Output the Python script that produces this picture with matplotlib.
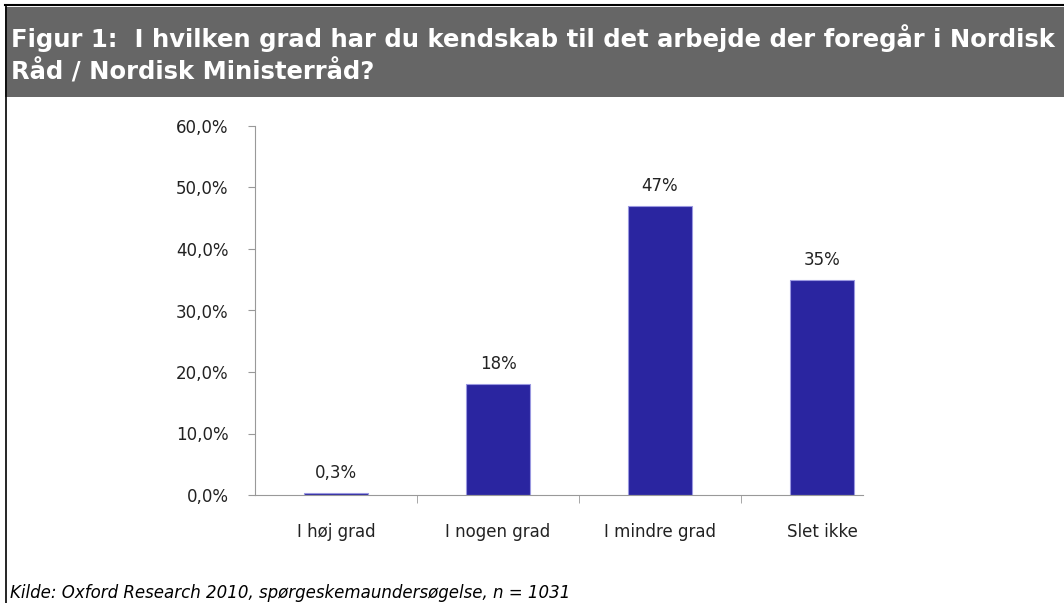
import matplotlib.pyplot as plt
from matplotlib.patches import Rectangle
from matplotlib.lines import Line2D
from matplotlib.ticker import FuncFormatter

plt.rcParams['font.family'] = ['DejaVu Sans']

categories = ["I høj grad", "I nogen grad", "I mindre grad", "Slet ikke"]
values = [0.3, 18, 47, 35]
labels = ["0,3%", "18%", "47%", "35%"]
title_lines = ["Figur 1:  I hvilken grad har du kendskab til det arbejde der foregår i Nordisk",
               "Råd / Nordisk Ministerråd?"]
source = "Kilde: Oxford Research 2010, spørgeskemaundersøgelse, n = 1031"

W, H = 1064, 603
fig = plt.figure(figsize=(W / 100, H / 100), dpi=100)


# pixel -> figure fraction helpers
def fx(px):
    return px / W


def fy(py):
    return 1 - py / H


# header box + frame lines
fig.patches.append(Rectangle((fx(5), fy(97)), fx(W) - fx(5), fy(7) - fy(97),
                             transform=fig.transFigure, facecolor="#666666",
                             edgecolor="none", zorder=0))
fig.lines.append(Line2D([fx(5), 1], [fy(5), fy(5)], transform=fig.transFigure,
                        color="black", lw=1.5))
fig.lines.append(Line2D([fx(6), fx(6)], [fy(5), 0], transform=fig.transFigure,
                        color="black", lw=1.2))
for i, line in enumerate(title_lines):
    fig.text(fx(11), fy(47 + 33 * i), line, color="white", fontsize=17.5,
             fontweight="bold", va="baseline", ha="left")
fig.text(fx(10), fy(598), source, fontsize=12, style="italic",
         va="baseline", ha="left", color="black")

ax = fig.add_axes([fx(255), fy(495), fx(903) - fx(255), fy(126) - fy(495)])
x = range(len(categories))
ax.bar(x, values, width=0.4, color="#2A25A0", edgecolor="#9a98e0", linewidth=0.8)
for xi, v, lab in zip(x, values, labels):
    ax.text(xi, v + 1.8, lab, ha="center", va="bottom", fontsize=12, color="#222222")

ax.set_xlim(-0.5, 3.5)
ax.set_ylim(0, 60)
ax.set_yticks(range(0, 61, 10))
ax.yaxis.set_major_formatter(FuncFormatter(lambda v, p: f"{v:.1f}%".replace(".", ",")))
ax.set_xticks(list(x))
ax.set_xticklabels(categories)
ax.set_xticks([0.5, 1.5, 2.5], minor=True)
ax.tick_params(axis="x", which="major", length=0, pad=20, labelsize=12, labelcolor="#222222")
ax.tick_params(axis="x", which="minor", length=6, color="#999999", direction="out")
ax.tick_params(axis="y", length=5, color="#999999", pad=14, labelsize=12, labelcolor="#222222")
for s in ["top", "right"]:
    ax.spines[s].set_visible(False)
for s in ["left", "bottom"]:
    ax.spines[s].set_color("#999999")
ax.spines["bottom"].set_bounds(-0.5, 3.25)

fig.savefig("out.png", dpi=100)
